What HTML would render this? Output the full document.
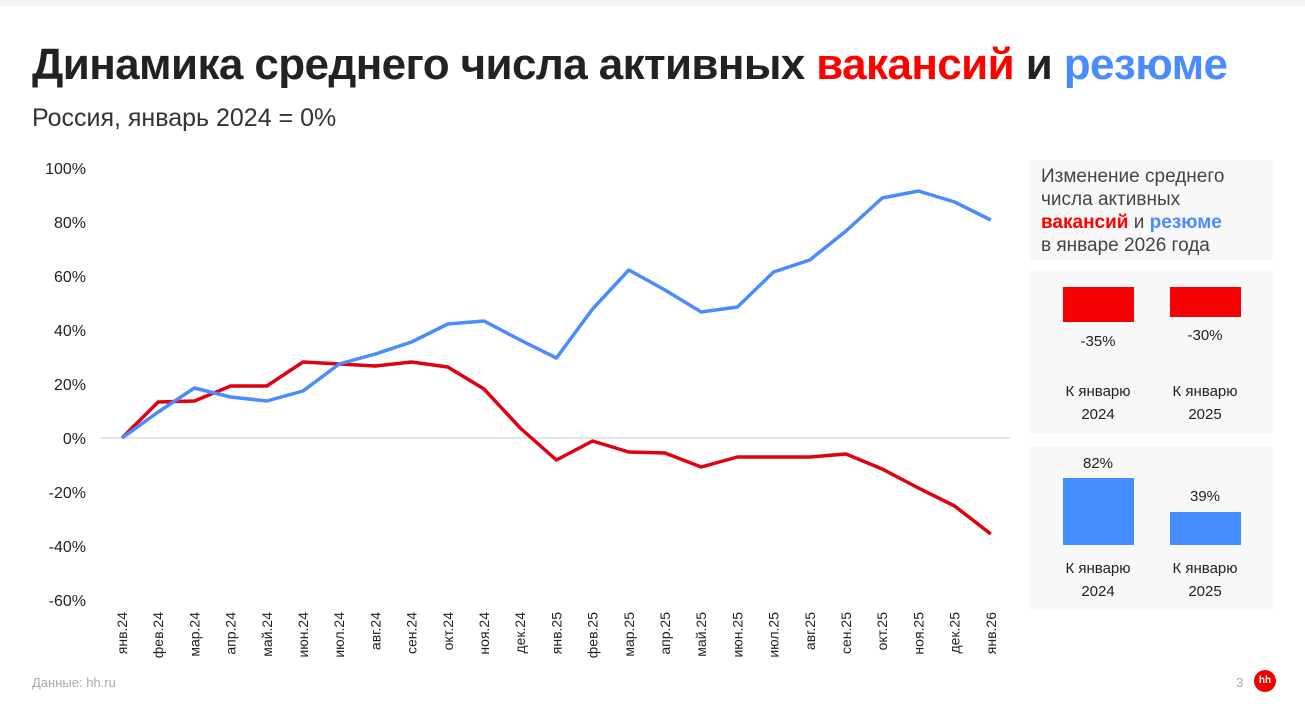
<!DOCTYPE html><html><head><meta charset="utf-8"><style>
body{margin:0;width:1305px;height:718px;background:#fff;font-family:"Liberation Sans",sans-serif;position:relative;overflow:hidden}
.a{position:absolute}
.box{position:absolute;background:#f8f8f8;left:1030px;width:243px}
.lbl{position:absolute;width:100px;text-align:center;font-size:15px;color:#222;line-height:23px}
</style></head><body>
<div class="a" style="left:0;top:0;width:1305px;height:6px;background:#f3f3f3"></div>
<div class="a" style="left:32px;top:40px;font-size:44px;font-weight:bold;color:#222;letter-spacing:-0.6px;white-space:nowrap">Динамика среднего числа активных <span style="color:#f00">вакансий</span> и <span style="color:#4a8cff">резюме</span></div>
<div class="a" style="left:32px;top:104px;font-size:25px;color:#333">Россия, январь 2024 = 0%</div>
<svg class="a" style="left:0;top:0" width="1020" height="718">
<line x1="100" y1="438" x2="1010" y2="438" stroke="#ccc" stroke-width="1"/>
<g font-size="16" fill="#222" text-anchor="end" font-family="Liberation Sans">
<text x="86" y="174">100%</text><text x="86" y="228">80%</text><text x="86" y="282">60%</text><text x="86" y="336">40%</text><text x="86" y="390">20%</text><text x="86" y="444">0%</text><text x="86" y="498">-20%</text><text x="86" y="552">-40%</text><text x="86" y="606">-60%</text>
</g>
<g font-size="14" fill="#222" text-anchor="end" font-family="Liberation Sans" id="xl"></g>
<polyline fill="none" stroke="#e0000f" stroke-width="3.5" stroke-linejoin="round" id="r"/>
<polyline fill="none" stroke="#4a8cff" stroke-width="3.5" stroke-linejoin="round" id="b"/>
</svg>
<div class="a" style="left:32px;top:675px;font-size:13px;color:#aaa">Данные: hh.ru</div>
<div class="a" style="left:1236px;top:675px;font-size:13px;color:#aaa">3</div>
<div class="a" style="left:1254px;top:670px;width:22px;height:22px;border-radius:50%;background:#e00;color:#fff;font-size:10px;font-weight:bold;text-align:center;line-height:22px">hh</div>
<div class="box" style="top:160px;height:100px"></div>
<div class="a" style="left:1041px;top:165px;font-size:19px;line-height:23px;color:#444">Изменение среднего<br>числа активных<br><b style="color:#f00">вакансий</b> и <b style="color:#4a8cff">резюме</b><br>в январе 2026 года</div>
<div class="box" style="top:270px;height:163px"></div>
<div class="box" style="top:447px;height:163px"></div>
<div class="a" style="left:1063px;top:287px;width:71px;height:35px;background:#f50000"></div>
<div class="a" style="left:1170px;top:287px;width:71px;height:30px;background:#f50000"></div>
<div class="a" style="left:1063px;top:478px;width:71px;height:67px;background:#448cff"></div>
<div class="a" style="left:1170px;top:512px;width:71px;height:33px;background:#448cff"></div>
<div class="lbl" style="left:1048px;top:330px">-35%</div>
<div class="lbl" style="left:1155px;top:324px">-30%</div>
<div class="lbl" style="left:1048px;top:380px">К январю<br>2024</div>
<div class="lbl" style="left:1155px;top:380px">К январю<br>2025</div>
<div class="lbl" style="left:1048px;top:452px">82%</div>
<div class="lbl" style="left:1155px;top:485px">39%</div>
<div class="lbl" style="left:1048px;top:557px">К январю<br>2024</div>
<div class="lbl" style="left:1155px;top:557px">К январю<br>2025</div>
<script>
var R=[438,402,401,386,386,362,364,366,362,367,389,428,460,441,452,453,467,457,457,457,454,469,488,506,534];
var B=[438,412,388,397,401,391,364,354,342,324,321,340,358,309,270,290,312,307,272,260,231,198,191,202,220];
var L=["янв.24","фев.24","мар.24","апр.24","май.24","июн.24","июл.24","авг.24","сен.24","окт.24","ноя.24","дек.24","янв.25","фев.25","мар.25","апр.25","май.25","июн.25","июл.25","авг.25","сен.25","окт.25","ноя.25","дек.25","янв.26"];
var x=i=>122+i*36.2;
document.getElementById('r').setAttribute('points',R.map((v,i)=>x(i)+','+v).join(' '));
document.getElementById('b').setAttribute('points',B.map((v,i)=>x(i)+','+v).join(' '));
var g=document.getElementById('xl'),s='';
L.forEach((t,i)=>{var X=x(i)+5;s+='<text transform="translate('+X+',612) rotate(-90)">'+t+'</text>'});
g.innerHTML=s;
</script>
</body></html>
